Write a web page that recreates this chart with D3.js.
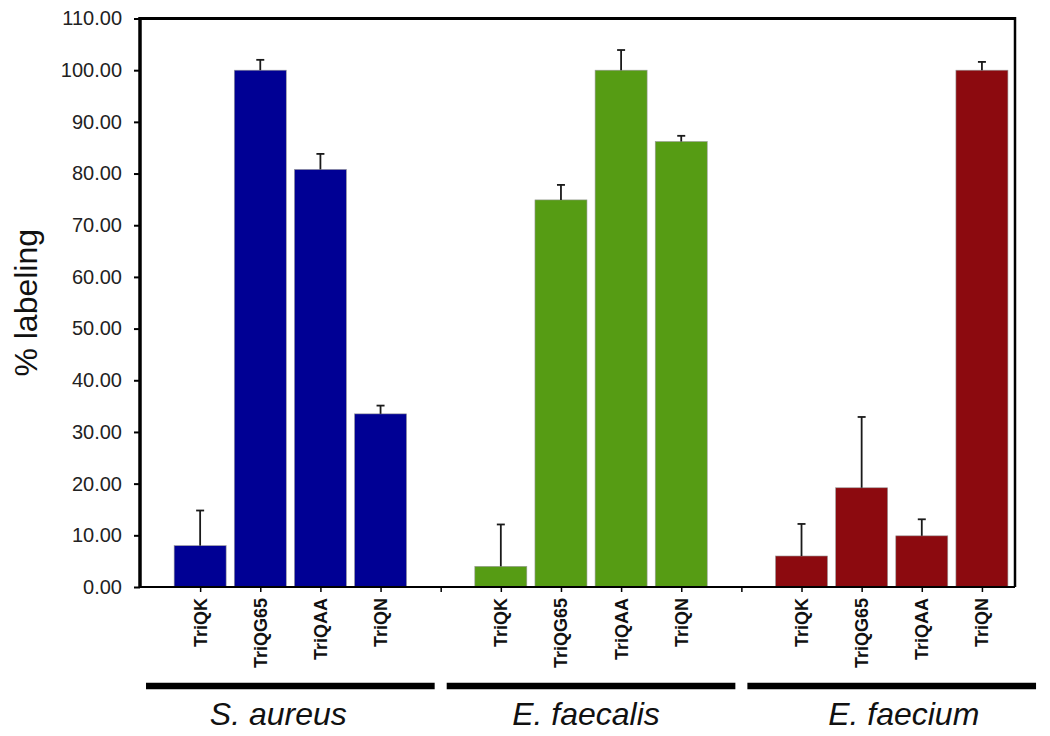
<!DOCTYPE html>
<html>
<head>
<meta charset="utf-8">
<script src="https://cdn.jsdelivr.net/npm/d3@7"></script>
<style>
  html, body { margin: 0; padding: 0; background: #fff; }
  svg { display: block; }
</style>
</head>
<body>
<svg id="chart" width="1050" height="736"></svg>
<script>
// ---- data ----
const groups = ["S. aureus", "E. faecalis", "E. faecium"];
const categories = ["TriQK", "TriQG65", "TriQAA", "TriQN"];
const sAureusValues   = [8.0, 100.0, 80.8, 33.5];
const sAureusErrors   = [6.8, 2.0, 3.0, 1.6];
const eFaecalisValues = [4.0, 74.9, 100.0, 86.2];
const eFaecalisErrors = [8.1, 2.9, 3.9, 1.1];
const eFaeciumValues  = [6.0, 19.2, 9.9, 100.0];
const eFaeciumErrors  = [6.2, 13.7, 3.2, 1.6];
const yTicks = [0, 10, 20, 30, 40, 50, 60, 70, 80, 90, 100, 110];
const groupColors = ["#000094", "#569C14", "#8C0A0F"];
const yTitle = "% labeling";

const seriesValues = [sAureusValues, eFaecalisValues, eFaeciumValues];
const seriesErrors = [sAureusErrors, eFaecalisErrors, eFaeciumErrors];

// ---- layout ----
const plotLeft = 140, plotRight = 1015, plotTop = 18.5, plotBottom = 587;
const slotsPerGroup = categories.length + 1;
const nSlots = groups.length * slotsPerGroup - 1; // 14
const barWidth = 52;
const groupLabelDx = [-12, -5, 12];

const svg = d3.select("#chart");
const font = "'Liberation Sans', Arial, Helvetica, sans-serif";

const x = d3.scaleLinear().domain([0, 14.55]).range([plotLeft, plotRight]);
const y = d3.scaleLinear().domain([0, 110]).range([plotBottom, plotTop]);

// flatten records
const records = [];
groups.forEach((g, gi) => {
  categories.forEach((c, ci) => {
    records.push({
      group: g, gi, cat: c,
      slot: gi * slotsPerGroup + ci + 1,
      value: seriesValues[gi][ci],
      err: seriesErrors[gi][ci]
    });
  });
});
const slotLabel = {};
records.forEach(r => { slotLabel[r.slot] = r.cat; });

// ---- bars ----
svg.append("g").selectAll("rect")
  .data(records).join("rect")
  .attr("x", d => x(d.slot) - barWidth / 2)
  .attr("y", d => y(d.value))
  .attr("width", barWidth)
  .attr("height", d => y(0) - y(d.value))
  .attr("fill", d => groupColors[d.gi])
  .attr("stroke", "#9a9a9a")
  .attr("stroke-width", 0.6);

// ---- error bars ----
const eb = svg.append("g").attr("stroke", "#1a1a1a").attr("stroke-width", 1.8);
eb.selectAll("line.v").data(records).join("line").attr("class", "v")
  .attr("x1", d => x(d.slot)).attr("x2", d => x(d.slot))
  .attr("y1", d => y(d.value)).attr("y2", d => y(d.value + d.err));
eb.selectAll("line.c").data(records).join("line").attr("class", "c")
  .attr("x1", d => x(d.slot) - 4).attr("x2", d => x(d.slot) + 4)
  .attr("y1", d => y(d.value + d.err)).attr("y2", d => y(d.value + d.err));

// ---- y axis ----
const yAxis = d3.axisLeft(y).tickValues(yTicks).tickFormat(d3.format(".2f"))
  .tickSize(6).tickPadding(12);
const gy = svg.append("g").attr("transform", `translate(${plotLeft},0)`).call(yAxis);
gy.select(".domain").remove();
gy.selectAll(".tick line").attr("stroke", "#000").attr("stroke-width", 2);
gy.selectAll(".tick text").attr("font-family", font).attr("font-size", 20).attr("fill", "#222");

// ---- x axis ----
const slotTicks = d3.range(1, nSlots + 1);
const xAxis = d3.axisBottom(x).tickValues(slotTicks)
  .tickFormat(s => slotLabel[s] || "").tickSize(5).tickPadding(0);
const gx = svg.append("g").attr("transform", `translate(0,${plotBottom})`).call(xAxis);
gx.select(".domain").remove();
gx.selectAll(".tick line").attr("stroke", "#000").attr("stroke-width", 1.5);
gx.selectAll(".tick text")
  .attr("font-family", font).attr("font-size", 18).attr("font-weight", "bold")
  .attr("fill", "#111")
  .attr("text-anchor", "end")
  .attr("dy", null).attr("y", null)
  .attr("transform", "translate(6,11) rotate(-90)");

// ---- frame ----
const frame = svg.append("g").attr("stroke", "#000").attr("fill", "none");
frame.append("line").attr("x1", plotLeft).attr("x2", plotLeft)
  .attr("y1", y(110) - 1.5).attr("y2", y(0) + 1).attr("stroke-width", 3.5);
frame.append("line").attr("x1", plotLeft).attr("x2", plotRight)
  .attr("y1", y(110)).attr("y2", y(110)).attr("stroke-width", 3);
frame.append("line").attr("x1", plotRight).attr("x2", plotRight)
  .attr("y1", y(110) - 1.5).attr("y2", y(0)).attr("stroke-width", 2.5);
frame.append("line").attr("x1", plotLeft).attr("x2", plotRight)
  .attr("y1", y(0)).attr("y2", y(0)).attr("stroke-width", 2.2);

// ---- y title ----
svg.append("text")
  .attr("transform", `translate(37,${(plotTop + plotBottom) / 2}) rotate(-90)`)
  .attr("text-anchor", "middle")
  .attr("font-family", font).attr("font-size", 32).attr("fill", "#111")
  .text(yTitle);

// ---- group brackets & labels ----
const step = x(1) - x(0);
const gsel = svg.append("g").selectAll("g").data(groups).join("g");
gsel.append("line")
  .attr("x1", (g, gi) => x(gi * slotsPerGroup + 1) - 0.9 * step)
  .attr("x2", (g, gi) => x(gi * slotsPerGroup + categories.length) + 0.9 * step)
  .attr("y1", 686).attr("y2", 686)
  .attr("stroke", "#000").attr("stroke-width", 6.5);
gsel.append("text")
  .attr("x", (g, gi) => (x(gi * slotsPerGroup + 1) + x(gi * slotsPerGroup + categories.length)) / 2 + groupLabelDx[gi])
  .attr("y", 725)
  .attr("text-anchor", "middle")
  .attr("font-family", font).attr("font-size", 32).attr("font-style", "italic").attr("fill", "#111")
  .text(g => g);
</script>
</body>
</html>
